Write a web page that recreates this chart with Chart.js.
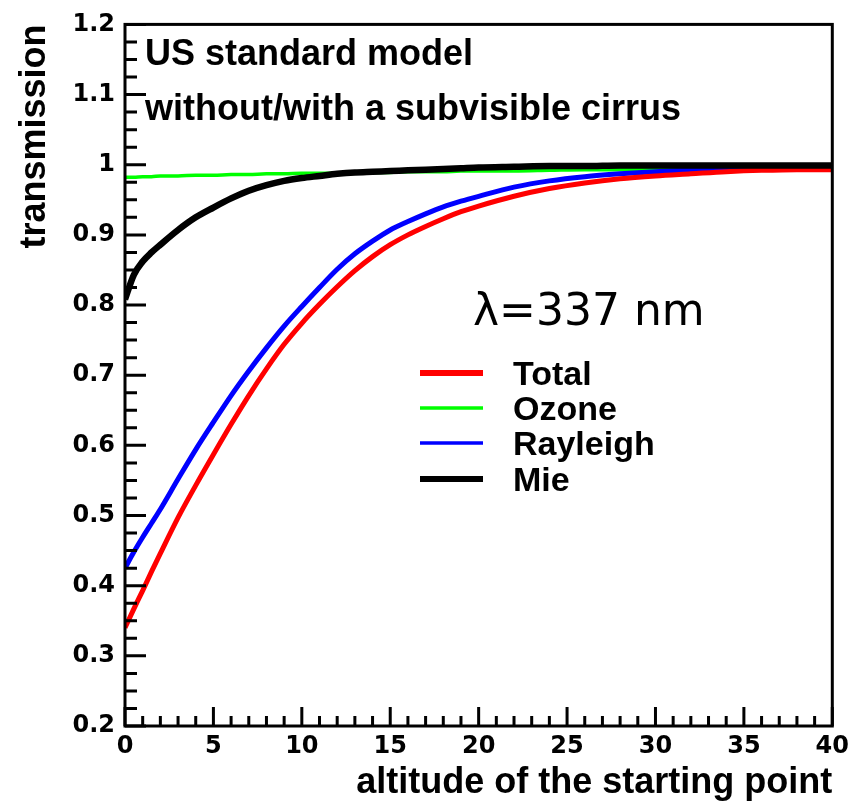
<!DOCTYPE html>
<html>
<head>
<meta charset="utf-8">
<script src="https://cdn.jsdelivr.net/npm/chart.js@4.4.1/dist/chart.umd.min.js"></script>
<style>
  html, body { margin: 0; padding: 0; background: #fff; }
  canvas { display: block; }
</style>
</head>
<body>
<canvas id="transmissionChart" width="855" height="805"></canvas>
<script>
// altitude of the starting point (x) and transmission of each component
const altitude = [0, 0.5, 1, 1.5, 2, 3, 4, 5, 6, 7, 8, 9, 10, 11, 12, 13, 14, 15, 16, 17, 18, 19, 20, 22, 24, 26, 28, 30, 32, 34, 36, 38, 40];
const total    = [0.340, 0.367, 0.393, 0.420, 0.446, 0.497, 0.543, 0.587, 0.630, 0.671, 0.709, 0.744, 0.774, 0.801, 0.826, 0.849, 0.869, 0.886, 0.900, 0.912, 0.923, 0.933, 0.941, 0.955, 0.966, 0.974, 0.980, 0.984, 0.987, 0.990, 0.992, 0.993, 0.993];
const ozone    = [0.982, 0.982, 0.983, 0.983, 0.984, 0.984, 0.985, 0.985, 0.986, 0.986, 0.987, 0.987, 0.988, 0.988, 0.988, 0.989, 0.989, 0.989, 0.990, 0.990, 0.990, 0.991, 0.991, 0.991, 0.992, 0.993, 0.993, 0.994, 0.994, 0.994, 0.995, 0.995, 0.995];
const rayleigh = [0.425, 0.448, 0.469, 0.489, 0.509, 0.552, 0.594, 0.633, 0.671, 0.706, 0.739, 0.770, 0.798, 0.825, 0.851, 0.873, 0.891, 0.907, 0.919, 0.930, 0.940, 0.948, 0.955, 0.968, 0.977, 0.983, 0.987, 0.990, 0.992, 0.993, 0.994, 0.994, 0.995];
const mie      = [0.808, 0.843, 0.862, 0.875, 0.886, 0.907, 0.925, 0.939, 0.952, 0.963, 0.971, 0.977, 0.981, 0.984, 0.987, 0.989, 0.990, 0.991, 0.992, 0.993, 0.994, 0.995, 0.996, 0.997, 0.998, 0.998, 0.999, 0.999, 0.999, 0.999, 0.999, 0.999, 0.999];

const xTickValues = [0, 5, 10, 15, 20, 25, 30, 35, 40];
const yTickValues = [0.2, 0.3, 0.4, 0.5, 0.6, 0.7, 0.8, 0.9, 1.0, 1.1, 1.2];

const titleLines = ['US standard model', 'without/with a subvisible cirrus'];
const wavelengthLabel = 'λ=337 nm';

const toPoints = values => values.map((v, i) => ({ x: altitude[i], y: v }));

const makeSet = (label, data, color, width, order) => ({
    label: label,
    data: toPoints(data),
    borderColor: color,
    backgroundColor: color,
    borderWidth: width,
    pointRadius: 0,
    fill: false,
    cubicInterpolationMode: 'monotone',
    order: order,
});

// legend line widths differ a bit from the curves in the original
const legendWidths = [6, 3.5, 3.5, 6];

const framePlugin = {
    id: 'framePlugin',
    afterDatasetsDraw(chart) {
        const { ctx, chartArea: a, scales: { x, y } } = chart;
        ctx.save();
        ctx.strokeStyle = '#000';
        ctx.lineWidth = 3;
        ctx.strokeRect(a.left, a.top, a.right - a.left, a.bottom - a.top);

        // ticks point inwards, only on left and bottom
        ctx.beginPath();
        for (let i = 0; i <= 40; i++) {
            const py = y.getPixelForValue(0.2 + i * 0.025);
            const len = i % 4 === 0 ? 21 : 12;
            ctx.moveTo(a.left, py);
            ctx.lineTo(a.left + len, py);
        }
        for (let v = 0; v <= 40; v++) {
            const px = x.getPixelForValue(v);
            const len = v % 5 === 0 ? 19 : 10;
            ctx.moveTo(px, a.bottom);
            ctx.lineTo(px, a.bottom - len);
        }
        ctx.stroke();

        // text inside the frame
        ctx.fillStyle = '#000';
        ctx.textAlign = 'left';
        ctx.textBaseline = 'alphabetic';
        ctx.font = 'bold 36px "Liberation Sans", Arial, sans-serif';
        ctx.fillText(titleLines[0], 145, 65);
        ctx.fillText(titleLines[1], 145, 120);

        ctx.font = '44px "DejaVu Sans", sans-serif';
        ctx.fillText(wavelengthLabel, 473, 325);

        // legend
        const legendY = [373, 408, 443, 479];
        ctx.font = 'bold 34px "Liberation Sans", Arial, sans-serif';
        chart.data.datasets.forEach((ds, i) => {
            ctx.strokeStyle = ds.borderColor;
            ctx.lineWidth = legendWidths[i];
            ctx.beginPath();
            ctx.moveTo(420, legendY[i]);
            ctx.lineTo(483, legendY[i]);
            ctx.stroke();
            ctx.fillText(ds.label, 513, legendY[i] + 12);
        });
        ctx.restore();
    }
};

const ctx = document.getElementById('transmissionChart').getContext('2d');
new Chart(ctx, {
    type: 'line',
    data: {
        datasets: [
            makeSet('Total', total, '#ff0000', 5, 1),
            makeSet('Ozone', ozone, '#00ff00', 3.5, 3),
            makeSet('Rayleigh', rayleigh, '#0000ff', 5, 2),
            makeSet('Mie', mie, '#000000', 6.5, 0),
        ]
    },
    options: {
        responsive: false,
        animation: false,
        devicePixelRatio: 1,
        layout: { padding: { left: 0, top: 20, right: 22, bottom: 0 } },
        plugins: {
            legend: { display: false },
            tooltip: { enabled: false }
        },
        scales: {
            x: {
                type: 'linear',
                min: 0,
                max: 40,
                afterBuildTicks: s => { s.ticks = xTickValues.map(v => ({ value: v })); },
                afterFit: s => { s.height = 79; },
                grid: { display: false, drawTicks: false },
                border: { display: false },
                ticks: {
                    padding: 6,
                    color: '#000',
                    maxRotation: 0,
                    font: { family: '"DejaVu Sans", sans-serif', size: 24, weight: 'bold' },
                    callback: v => String(v)
                },
                title: {
                    display: true,
                    text: 'altitude of the starting point',
                    align: 'end',
                    color: '#000',
                    padding: { top: 0, bottom: 0 },
                    font: { family: '"Liberation Sans", Arial, sans-serif', size: 36, weight: 'bold' }
                }
            },
            y: {
                min: 0.2,
                max: 1.2,
                afterBuildTicks: s => { s.ticks = yTickValues.map(v => ({ value: v })); },
                afterFit: s => { s.width = 125; },
                grid: { display: false, drawTicks: false },
                border: { display: false },
                ticks: {
                    padding: 10,
                    color: '#000',
                    font: { family: '"DejaVu Sans", sans-serif', size: 24, weight: 'bold' },
                    callback: v => String(+v.toFixed(1))
                },
                title: {
                    display: true,
                    text: 'transmission',
                    align: 'end',
                    color: '#000',
                    padding: { top: 13, bottom: 0 },
                    font: { family: '"Liberation Sans", Arial, sans-serif', size: 36, weight: 'bold' }
                }
            }
        }
    },
    plugins: [framePlugin]
});
</script>
</body>
</html>
